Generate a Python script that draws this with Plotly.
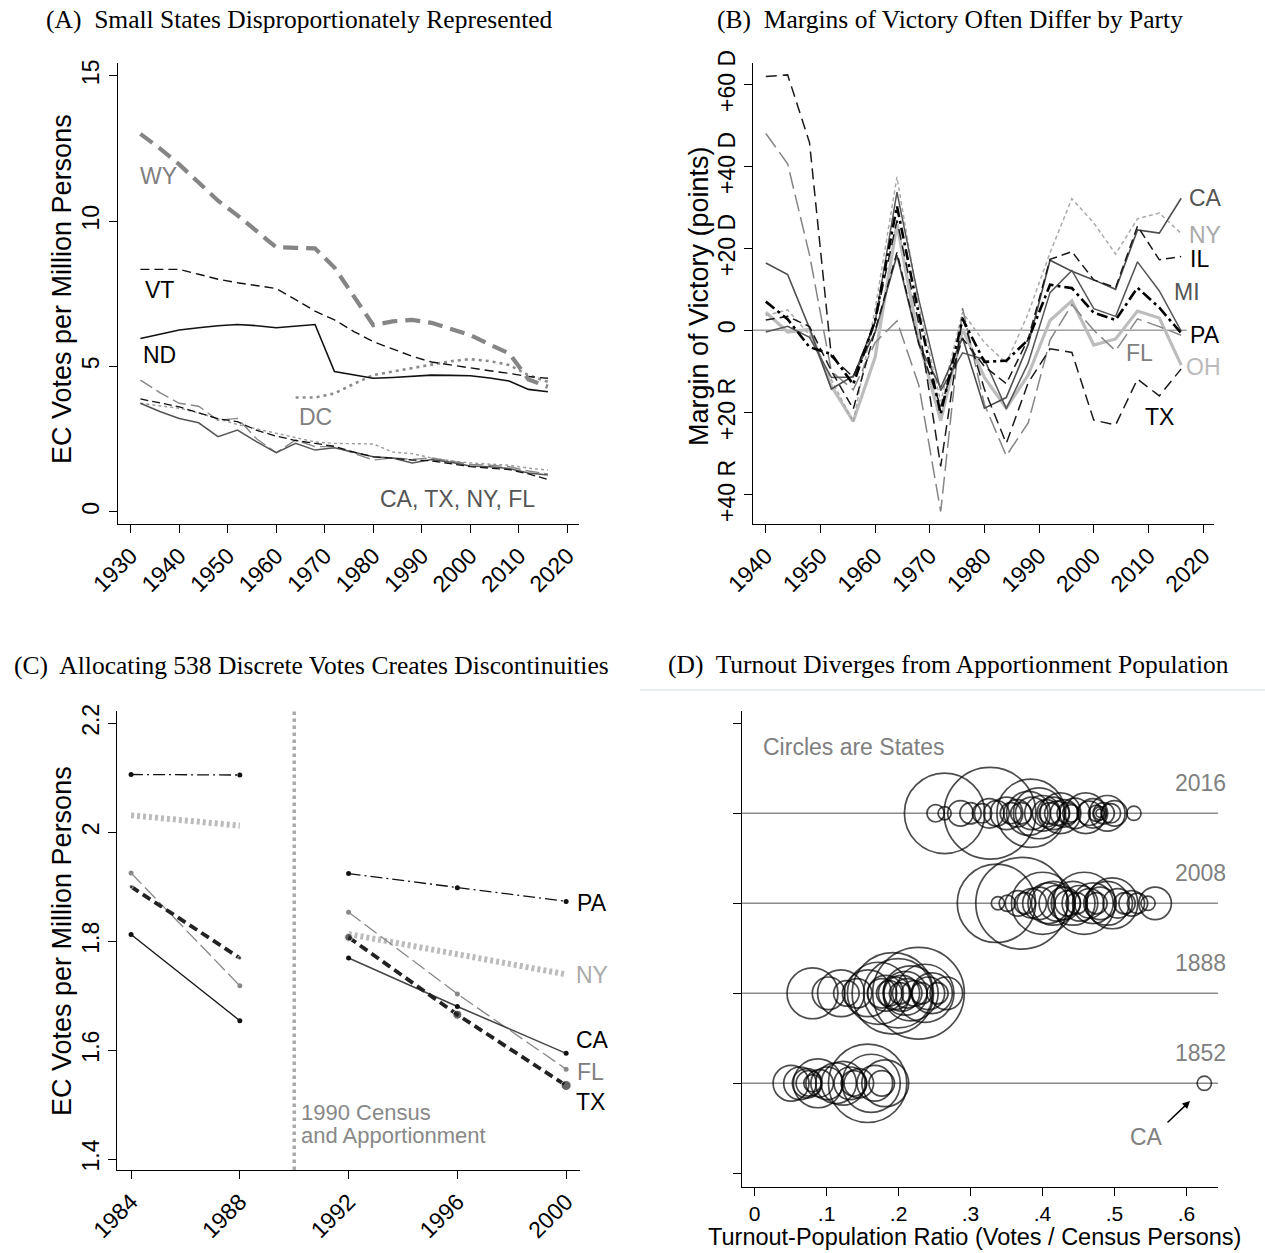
import math
import plotly.graph_objects as go

W, H = 1265, 1253
SANS = "Liberation Sans, Arial, sans-serif"
SERIF = "Liberation Serif, Times New Roman, serif"

# ---------------- Panel A data: EC votes per million persons ----------------
a_years = [1932, 1936, 1940, 1944, 1948, 1952, 1956, 1960, 1964, 1968, 1972,
           1976, 1980, 1984, 1988, 1992, 1996, 2000, 2004, 2008, 2012, 2016]
a_wy = [13.0, 12.5, 11.95, 11.3, 10.7, 10.2, 9.65, 9.1, 9.08, 9.06, 8.4,
        7.4, 6.42, 6.55, 6.6, 6.5, 6.3, 6.08, 5.75, 5.45, 4.55, 4.3]
a_vt = [8.34, 8.34, 8.34, 8.17, 8.0, 7.88, 7.78, 7.68, 7.3, 6.9, 6.6,
        6.2, 5.85, 5.6, 5.35, 5.15, 5.05, 4.93, 4.85, 4.76, 4.65, 4.59]
a_nd = [5.96, 6.1, 6.25, 6.33, 6.4, 6.44, 6.4, 6.33, 6.38, 6.44, 4.82,
        4.7, 4.59, 4.62, 4.66, 4.7, 4.69, 4.68, 4.6, 4.5, 4.21, 4.13]
a_dc_years = [1964, 1968, 1972, 1976, 1980, 1984, 1988, 1992, 1996, 2000, 2004, 2008, 2012, 2016]
a_dc = [3.93, 3.93, 4.07, 4.4, 4.7, 4.82, 4.93, 5.05, 5.18, 5.25, 5.18, 5.05, 4.7, 4.47]
a_fl = [4.53, 4.1, 3.73, 3.63, 3.15, 3.21, 2.5, 2.03, 2.47, 2.24, 2.24,
        2.0, 1.78, 1.85, 1.8, 1.85, 1.75, 1.63, 1.6, 1.55, 1.4, 1.3]
a_ca = [3.73, 3.45, 3.21, 3.06, 2.58, 2.81, 2.4, 2.03, 2.35, 2.12, 2.2,
        2.05, 1.89, 1.85, 1.68, 1.8, 1.7, 1.57, 1.55, 1.49, 1.33, 1.26]
a_tx = [3.88, 3.75, 3.61, 3.4, 3.2, 3.1, 2.8, 2.6, 2.45, 2.35, 2.25,
        2.05, 1.89, 1.84, 1.78, 1.75, 1.65, 1.55, 1.5, 1.45, 1.3, 1.11]
a_ny = [3.73, 3.65, 3.56, 3.4, 3.2, 3.0, 2.85, 2.7, 2.55, 2.4, 2.35,
        2.34, 2.33, 2.05, 2.0, 1.85, 1.75, 1.68, 1.65, 1.6, 1.5, 1.43]
a_xticks = [1930, 1940, 1950, 1960, 1970, 1980, 1990, 2000, 2010, 2020]
a_yticks = [0, 5, 10, 15]

# ---------------- Panel B data: margin of victory (D minus R, points) ----------------
b_years = [1940, 1944, 1948, 1952, 1956, 1960, 1964, 1968, 1972, 1976,
           1980, 1984, 1988, 1992, 1996, 2000, 2004, 2008, 2012, 2016]
b_ca = [16.4, 13.6, 0.5, -14.3, -11.1, -0.5, 18.3, -3.4, -14.0, -1.8,
        -19.0, -16.4, -3.5, 17.1, 14.4, 12.3, 10.0, 24.5, 23.7, 32.2]
b_ny = [3.6, 5.0, -1.1, -12.0, -22.4, 5.2, 37.4, 5.9, -17.4, 4.4,
        -3.0, -8.0, 4.1, 18.9, 32.1, 26.2, 18.6, 27.2, 28.6, 23.6]
b_il = [2.5, 3.4, 0.9, -9.9, -19.2, 0.2, 19.0, -3.2, -18.6, -2.0,
        -8.8, -13.0, -2.1, 17.3, 19.2, 12.3, 10.4, 25.4, 17.2, 18.0]
b_mi = [-0.4, 1.0, -1.7, -11.5, -11.4, 2.1, 33.7, 7.5, -14.7, -5.5,
        -7.1, -19.1, -8.0, 9.2, 14.6, 5.3, 3.4, 16.7, 9.6, -0.2]
b_pa = [7.0, 2.7, -4.1, -5.8, -13.2, 2.4, 30.3, 3.9, -20.4, 2.8,
        -7.7, -7.4, -2.3, 11.1, 10.3, 4.3, 2.5, 10.4, 5.5, -0.7]
b_fl = [48.0, 40.6, 18.4, -10.0, -14.5, -3.0, 2.3, -13.4, -44.2, 5.4,
        -18.1, -30.6, -22.6, -2.4, 6.3, 0.0, -5.0, 2.8, 0.9, -1.2]
b_oh = [4.4, -0.4, 0.2, -13.6, -22.2, -6.6, 25.9, -2.5, -22.0, 0.3,
        -11.5, -19.0, -10.9, 2.4, 7.2, -3.6, -2.1, 4.7, 3.0, -8.5]
b_tx = [61.9, 62.3, 45.8, -6.4, -11.4, 2.0, 26.8, 1.5, -33.2, 3.2,
        -14.4, -27.6, -12.8, -4.5, -5.4, -21.9, -23.1, -11.9, -16.0, -9.4]
b_xticks = [1940, 1950, 1960, 1970, 1980, 1990, 2000, 2010, 2020]
b_yticks = [-40, -20, 0, 20, 40, 60]
b_yticktext = ["+40 R", "+20 R", "0", "+20 D", "+40 D", "+60 D"]

# ---------------- Panel C data ----------------
c_years = [1984, 1988, 1992, 1996, 2000]
c_pa = [2.106, 2.105, 1.924, 1.898, 1.873]
c_ny = [2.031, 2.012, 1.813, 1.777, 1.739]
c_fl = [1.925, 1.718, 1.853, 1.703, 1.565]
c_tx = [1.900, 1.769, 1.807, 1.665, 1.535]
c_ca = [1.812, 1.654, 1.769, 1.680, 1.594]
c_yticks = [1.4, 1.6, 1.8, 2.0, 2.2]
c_yticktext = ["1.4", "1.6", "1.8", "2", "2.2"]
c_census_year = 1990

# ---------------- Panel D data: turnout ratio and population share per state ----------------
d_1852_ratio = [0.0506, 0.0630, 0.0729, 0.0754, 0.0804, 0.0878, 0.0903, 0.1007, 0.1131, 0.1230,
                0.1329, 0.1379, 0.1448, 0.1570, 0.1620, 0.1670, 0.1766, 0.1815, 0.6248]
d_1852_share = [1.70, 1.40, 1.15, 0.86, 0.40, 3.16, 1.0, 1.40, 2.19, 2.54,
                1.40, 0.86, 1.15, 8.13, 4.46, 1.68, 0.86, 2.90, 0.27]
d_1888_ratio = [0.0804, 0.1027, 0.120, 0.1275, 0.1424, 0.1573, 0.172, 0.177, 0.182, 0.187,
                0.192, 0.1945, 0.1994, 0.202, 0.2045, 0.2094, 0.212, 0.2168, 0.2218, 0.2277,
                0.232, 0.2366, 0.2415, 0.2465, 0.254, 0.2664]
d_1888_share = [3.43, 1.40, 2.90, 0.86, 1.15, 2.90, 5.10, 1.15, 1.68, 0.86,
                8.78, 1.40, 6.34, 0.60, 1.68, 2.54, 1.15, 4.0, 0.86, 11.11,
                0.60, 4.46, 1.40, 2.19, 0.60, 1.40]
d_2008_ratio = [0.336, 0.371, 0.400, 0.458, 0.338, 0.351, 0.366, 0.3755, 0.385, 0.395,
                0.408, 0.415, 0.420, 0.430, 0.435, 0.4425, 0.4475, 0.452, 0.465, 0.470,
                0.475, 0.480, 0.490, 0.497, 0.5045, 0.514, 0.524, 0.532, 0.5466, 0.5565]
d_2008_share = [8.13, 11.11, 5.10, 5.10, 0.23, 0.35, 0.86, 0.60, 1.15, 1.40,
                2.19, 2.54, 1.68, 1.40, 0.86, 2.54, 0.60, 1.68, 1.15, 2.19,
                0.60, 1.40, 2.54, 3.43, 1.15, 0.60, 0.86, 0.55, 0.27, 1.40]
d_2016_ratio = [0.264, 0.327, 0.384, 0.2515, 0.264, 0.286, 0.300, 0.316, 0.326, 0.336,
                0.350, 0.356, 0.365, 0.3705, 0.3805, 0.385, 0.395, 0.400, 0.405, 0.410,
                0.415, 0.420, 0.425, 0.430, 0.435, 0.440, 0.445, 0.460, 0.465, 0.470,
                0.475, 0.480, 0.480, 0.485, 0.490, 0.495, 0.500, 0.527]
d_2016_share = [8.56, 11.11, 6.16, 0.40, 0.23, 0.86, 0.60, 0.50, 1.15, 0.86,
                1.40, 0.60, 1.0, 0.60, 2.54, 1.40, 3.43, 1.68, 1.0, 0.60,
                1.40, 0.79, 2.19, 1.0, 0.60, 0.40, 1.23, 2.19, 0.79, 1.15,
                0.35, 0.09, 0.23, 0.60, 1.68, 0.50, 0.86, 0.27]
d_row_labels = ["1852", "1888", "2008", "2016"]
d_xticks = [0, 0.1, 0.2, 0.3, 0.4, 0.5, 0.6]
d_xticktext = ["0", ".1", ".2", ".3", ".4", ".5", ".6"]


def P(xp, yp):
    return xp / W, 1 - yp / H


fig = go.Figure()


def line(x, y, ax, color, width, dash="solid", mode="lines", marker=None):
    xa, ya = ax
    kw = dict(x=x, y=y, xaxis=xa, yaxis=ya, mode=mode, hoverinfo="skip",
              line=dict(color=color, width=width, dash=dash))
    if marker is not None:
        kw["marker"] = marker
    fig.add_trace(go.Scatter(**kw))


A = ("x", "y")
B = ("x2", "y2")
C = ("x3", "y3")
D = ("x4", "y4")

# ---- Panel A traces ----
line(a_years, a_ny, A, "#9a9a9a", 1.4, "3px,3px")
line(a_years, a_fl, A, "#888888", 1.4, "14px,5px")
line(a_years, a_ca, A, "#555555", 1.5)
line(a_years, a_tx, A, "#111111", 1.3, "8px,4px")
line(a_dc_years, a_dc, A, "#8c8c8c", 2.6, "3px,4px")
line(a_years, a_nd, A, "#111111", 1.6)
line(a_years, a_vt, A, "#111111", 1.4, "9px,5px")
line(a_years, a_wy, A, "#858585", 4.2, "15px,8px")

# ---- Panel B traces ----
line(b_years, b_oh, B, "#bdbdbd", 3.2)
line(b_years, b_ny, B, "#aaaaaa", 1.5, "4px,3px")
line(b_years, b_fl, B, "#858585", 1.5, "17px,6px")
line(b_years, b_ca, B, "#4d4d4d", 1.6)
line(b_years, b_mi, B, "#555555", 1.5)
line(b_years, b_il, B, "#1a1a1a", 1.5, "9px,5px")
line(b_years, b_tx, B, "#1a1a1a", 1.5, "11px,6px")
line(b_years, b_pa, B, "#000000", 2.6, "11px,4px,3px,4px")

# ---- Panel C traces ----
def gap(v):
    return list(v[:2]) + [None] + list(v[2:])

cx = gap(c_years)
line(cx, gap(c_ny), C, "#bbbbbb", 6, "3px,3px")
line(cx, gap(c_fl), C, "#888888", 1.3, "15px,5px", "lines+markers",
     dict(color="#888888", size=5))
line(c_years[:2], c_ca[:2], C, "#111111", 1.3, "solid", "lines+markers",
     dict(color="#111111", size=5))
line(c_years[2:], c_ca[2:], C, "#444444", 1.5, "solid", "lines+markers",
     dict(color="#111111", size=5))
line(cx, gap(c_tx), C, "#222222", 3.8, "9px,5px", "lines+markers",
     dict(color="#222222", size=[4, 4, 0, 8, 9, 10]))
line(cx, gap(c_pa), C, "#111111", 1.3, "12px,4px,2px,4px", "lines+markers",
     dict(color="#111111", size=5))

# ---- Panel D traces ----
DIAM_PER_SQRT_SHARE = 27.5
rows = [(1, d_1852_ratio, d_1852_share), (2, d_1888_ratio, d_1888_share),
        (3, d_2008_ratio, d_2008_share), (4, d_2016_ratio, d_2016_share)]
for yrow, ratios, shares in rows:
    fig.add_trace(go.Scatter(
        x=ratios, y=[yrow] * len(ratios), xaxis="x4", yaxis="y4", mode="markers",
        hoverinfo="skip",
        marker=dict(symbol="circle-open", color="black",
                    size=[DIAM_PER_SQRT_SHARE * math.sqrt(s) for s in shares],
                    line=dict(width=1.7, color="black"))))

# ---------------- Axes ----------------
tick_font = dict(family=SANS, size=23, color="black")
base = dict(showline=True, linecolor="black", linewidth=1.3, ticks="outside",
            ticklen=8, tickwidth=1.3, tickcolor="black", showgrid=False,
            zeroline=False, tickfont=tick_font, fixedrange=True, automargin=False)


def xd(a, b):
    return [a / W, b / W]


def yd(top, bottom):
    return [1 - bottom / H, 1 - top / H]


fig.update_layout(
    template="none",
    width=W, height=H, margin=dict(l=0, r=0, t=0, b=0, pad=0), autosize=False,
    paper_bgcolor="white", plot_bgcolor="white", showlegend=False,
    font=dict(family=SANS),
    xaxis=dict(base, domain=xd(117.7, 579), range=[1927.32, 2022.41], anchor="y",
               tickvals=a_xticks, tickangle=-45),
    yaxis=dict(base, domain=yd(63, 524), range=[-0.423, 15.44], anchor="x",
               tickvals=a_yticks, tickangle=-90),
    xaxis2=dict(base, domain=xd(753, 1214), range=[1937.66, 2022.0], anchor="y2",
                tickvals=b_xticks, tickangle=-45),
    yaxis2=dict(base, domain=yd(63, 524), range=[-47.24, 65.2], anchor="x2",
                tickvals=b_yticks, ticktext=b_yticktext, tickangle=-90),
    xaxis3=dict(base, domain=xd(117.2, 580), range=[1983.49, 2000.51], anchor="y3",
                tickvals=c_years, tickangle=-45),
    yaxis3=dict(base, domain=yd(710.7, 1170), range=[1.3798, 2.2231], anchor="x3",
                tickvals=c_yticks, ticktext=c_yticktext, tickangle=-90),
    xaxis4=dict(base, domain=xd(742.1, 1217.9), range=[-0.0174, 0.6437], anchor="y4",
                tickvals=d_xticks, ticktext=d_xticktext, tickangle=0,
                tickfont=dict(family=SANS, size=21, color="black")),
    yaxis4=dict(base, domain=yd(710.7, 1186.7), range=[-0.149, 5.14], anchor="x4",
                tickvals=[0, 1, 2, 3, 4, 5], showticklabels=False),
)

# ---------------- Shapes ----------------
shapes = [
    dict(type="line", xref="x2", yref="y2", x0=1937.66, x1=2017, y0=0, y1=0,
         line=dict(color="#a0a0a0", width=1.6), layer="below"),
    dict(type="line", xref="x3", yref="y3 domain", x0=c_census_year, x1=c_census_year,
         y0=0, y1=1, line=dict(color="#aaaaaa", width=3.5, dash="dot"), layer="below"),
    dict(type="line", xref="paper", yref="paper", x0=640 / W, x1=1, y0=1 - 690 / H,
         y1=1 - 690 / H, line=dict(color="#e3eaed", width=1.5)),
]
for r in range(1, 5):
    shapes.append(dict(type="line", xref="x4 domain", yref="y4", x0=0, x1=1, y0=r, y1=r,
                       line=dict(color="#8a8a8a", width=1.6), layer="below"))
fig.update_layout(shapes=shapes)

# ---------------- Annotations ----------------
ann = []


def text(t, xp, yp, color="black", size=23, family=SANS, xanchor="center", angle=0):
    x, y = P(xp, yp)
    ann.append(dict(text=t, x=x, y=y, xref="paper", yref="paper", showarrow=False,
                    xanchor=xanchor, yanchor="middle", textangle=angle,
                    font=dict(family=family, size=size, color=color)))


# titles
text("(A)\u00a0 Small States Disproportionately Represented", 299, 19, size=25.5, family=SERIF)
text("(B)\u00a0 Margins of Victory Often Differ by Party", 950, 19, size=25.5, family=SERIF)
text("(C)\u00a0 Allocating 538 Discrete Votes Creates Discontinuities", 311, 665, size=25.5, family=SERIF)
text("(D)\u00a0 Turnout Diverges from Apportionment Population", 948, 664, size=25.5, family=SERIF)

# axis titles
text("EC Votes per Million Persons", 62, 289, size=27, angle=-90)
text("Margin of Victory (points)", 699, 296, size=27, angle=-90)
text("EC Votes per Million Persons", 62, 941, size=27, angle=-90)
text("Turnout-Population Ratio (Votes / Census Persons)", 974, 1237, size=23.5)

# panel A labels
text("WY", 158, 176, "#808080")
text("VT", 159, 290)
text("ND", 159, 355)
text("DC", 315, 417, "#808080")
text("CA, TX, NY, FL", 457, 499, "#555555")

# panel B labels
text("CA", 1205, 198, "#555555")
text("NY", 1205, 235, "#aaaaaa")
text("IL", 1199, 259)
text("MI", 1187, 292, "#555555")
text("PA", 1205, 335)
text("FL", 1139, 353, "#808080")
text("OH", 1203, 367, "#bbbbbb")
text("TX", 1159, 417)

# panel C labels
text("PA", 592, 903)
text("NY", 592, 975, "#aaaaaa")
text("CA", 592, 1040)
text("FL", 590, 1072, "#808080")
text("TX", 590, 1102)
text("1990 Census", 299, 1112, "#888888", size=22, xanchor="left")
text("and Apportionment", 299, 1135, "#888888", size=22, xanchor="left")

# panel D labels
text("Circles are States", 854, 747, "#808080")
row_label_px = {"2016": 783, "2008": 873, "1888": 963, "1852": 1053}
for lab in d_row_labels:
    text(lab, 1200, row_label_px[lab], "#808080")
text("CA", 1146, 1137, "#808080")
hx, hy = P(1190, 1101)
ann.append(dict(text="", x=hx, y=hy, xref="paper", yref="paper", showarrow=True,
                ax=-24, ay=23, arrowhead=2, arrowsize=1, arrowwidth=1.5,
                arrowcolor="black"))

fig.update_layout(annotations=ann)

fig.write_html("out.html")
